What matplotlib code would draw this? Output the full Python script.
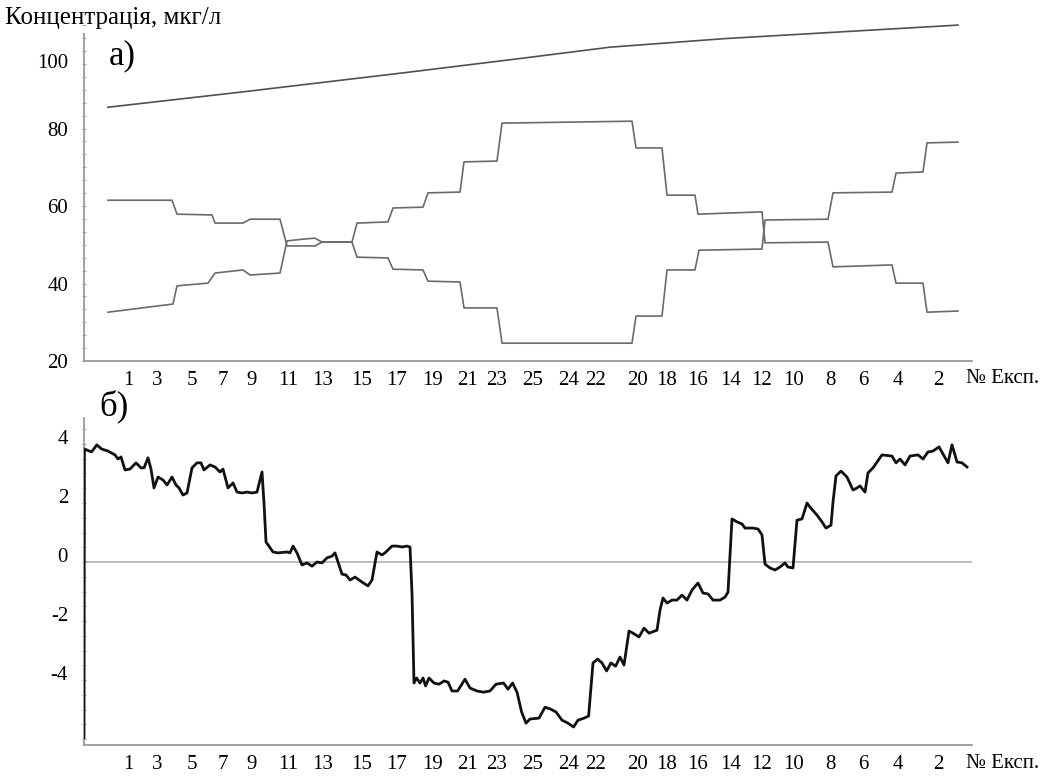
import matplotlib
matplotlib.use("Agg")
import matplotlib.pyplot as plt
import matplotlib.transforms as mtransforms
from matplotlib.ticker import MultipleLocator

plt.rcParams["font.family"] = ["Liberation Serif", "DejaVu Serif"]
plt.rcParams["axes.unicode_minus"] = False

# Experiment order along the run (odd numbers forward, even numbers back)
exp_labels = ["1", "3", "5", "7", "9", "11", "13", "15", "17", "19", "21", "23", "25",
              "24", "22", "20", "18", "16", "14", "12", "10", "8", "6", "4", "2"]
exp_pos = [11, 18.25, 27, 34.75, 42, 51, 59.75, 69.5, 78.25, 87.25, 95.75, 103.25, 112.25,
           121.25, 128, 138.25, 145.75, 153.5, 161.75, 169.5, 177.5, 186.5, 194.75, 203.5, 213.5]

# a) total concentration, mg/l
total_t = [6, 40, 80, 110, 131.5, 160, 190, 218.5]
total_c = [85.5, 89.5, 94.4, 98.2, 101.0, 103.2, 105.0, 106.7]

# a) component 1
comp1_t = [6, 22, 23.25, 32, 32.75, 39.75, 41.5, 49, 50.75, 57.75, 59.5, 67,
           68.25, 76, 77.25, 84.75, 86, 94, 95, 103.25, 104.5, 137, 138, 144.5,
           145.75, 152.75, 153.75, 169.5, 170.25, 186, 187.25, 202, 203, 209.75, 210.75, 218.5]
comp1_c = [61.5, 61.5, 57.9, 57.7, 55.6, 55.6, 56.6, 56.6, 49.7, 49.7, 50.7, 50.7,
           46.8, 46.6, 43.7, 43.5, 40.6, 40.4, 33.7, 33.7, 24.6, 24.6, 31.6, 31.6,
           43.5, 43.5, 48.6, 48.9, 56.4, 56.6, 63.4, 63.6, 68.5, 68.8, 76.3, 76.5]

# a) component 2
comp2_t = [6, 22.25, 23.25, 31, 32.75, 39.75, 41.5, 49, 50.75, 55.25, 57.75, 59.5, 67,
           68.25, 76, 77.25, 84.75, 86, 94, 95, 103.25, 104.5, 137, 138, 144.5,
           145.75, 152.75, 153.5, 169.5, 170.25, 186, 187.25, 202, 203, 209.75, 210.75, 218.5]
comp2_c = [32.6, 34.7, 39.4, 40.1, 42.7, 43.5, 42.2, 42.7, 51.0, 51.5, 51.7, 50.7, 50.7,
           55.6, 55.9, 59.5, 59.7, 63.4, 63.6, 71.4, 71.6, 81.4, 81.9, 75.0, 75.0,
           62.8, 62.8, 57.9, 58.5, 50.5, 50.7, 44.3, 44.8, 40.1, 40.1, 32.6, 32.9]

# b) response signal
sig_t = [0, 0.1, 0.25, 1.9, 3.2, 4.4, 6.0, 7.75, 8.5, 9.25, 10.25, 11.5, 13.0, 14.25, 15.0,
         16.0, 16.75, 17.5, 18.5, 19.75, 20.75, 22.0, 23.0, 23.75, 24.75, 25.75, 27.0, 28.25,
         29.25, 30.0, 31.5, 32.75, 34.0, 34.75, 36.0, 37.25, 38.25, 39.5, 40.75, 42.0, 43.25,
         44.5, 45.0, 45.5, 47.25, 48.5, 50.75, 51.5, 52.25, 53.25, 54.5, 55.75, 57.0, 58.25,
         59.5, 60.75, 62.0, 62.75, 64.5, 65.5, 66.5, 67.75, 69.5, 71.0, 72.0, 73.25, 74.5,
         75.25, 77.0, 78.25, 79.5, 80.75, 81.5, 82.0, 82.5, 83.15, 84.0, 84.75, 85.4, 86.25,
         87.5, 88.75, 90.0, 91.0, 92.0, 93.4, 95.25, 96.5, 98.25, 99.9, 101.5, 103.0, 104.9,
         106.0, 107.15, 108.25, 109.4, 110.5, 111.5, 113.75, 115.25, 116.6, 118.0, 119.5,
         121.0, 122.4, 123.5, 125.0, 126.15, 127.25, 128.4, 129.5, 130.65, 131.75, 132.9,
         134.0, 135.0, 136.25, 137.25, 138.75, 140.0, 141.25, 143.25, 144.0, 144.75, 145.75,
         147.0, 148.25, 149.5, 150.75, 152.0, 153.5, 154.75, 156.0, 157.25, 159.0, 160.25,
         161.0, 162.0, 163.25, 164.5, 165.25, 167.25, 168.5, 169.5, 170.25, 171.5, 172.75,
         174.0, 175.25, 176.0, 177.25, 178.25, 179.5, 180.75, 181.5, 183.25, 184.5, 185.5,
         186.75, 187.25, 188.0, 189.25, 190.75, 192.25, 193.25, 194.0, 195.25, 196.0, 197.25,
         199.5, 202.0, 203.0, 204.0, 205.25, 206.5, 208.5, 209.75, 211.0, 212.25, 213.75,
         216.0, 217.0, 218.25, 219.5, 220.75]
sig_v = [-5.95, 3.83, 3.82, 3.73, 3.97, 3.83, 3.76, 3.63, 3.49, 3.56, 3.12, 3.15, 3.36, 3.19,
         3.19, 3.53, 3.15, 2.51, 2.88, 2.78, 2.61, 2.88, 2.61, 2.51, 2.27, 2.34, 3.19, 3.36,
         3.36, 3.12, 3.29, 3.22, 3.05, 3.15, 2.51, 2.68, 2.37, 2.34, 2.37, 2.34, 2.37,
         3.05, 2.0, 0.68, 0.34, 0.31, 0.34, 0.31, 0.54, 0.31, -0.10, -0.03, -0.14, 0.0,
         -0.03, 0.14, 0.20, 0.31, -0.41, -0.44, -0.61, -0.51, -0.68, -0.81, -0.61, 0.34, 0.24,
         0.31, 0.54, 0.54, 0.51, 0.54, 0.51, -1.05, -4.10, -3.93, -4.10, -3.93, -4.20, -3.93,
         -4.10, -4.14, -4.03, -4.07, -4.37, -4.37, -3.97, -4.27, -4.37, -4.41, -4.37, -4.14, -4.10,
         -4.31, -4.10, -4.41, -5.08, -5.46, -5.32, -5.29, -4.92, -4.98, -5.08, -5.36,
         -5.46, -5.59, -5.36, -5.29, -5.22, -3.42, -3.29, -3.42, -3.69, -3.42, -3.53,
         -3.22, -3.49, -2.34, -2.41, -2.54, -2.24, -2.41, -2.31, -1.63, -1.22, -1.39,
         -1.29, -1.29, -1.12, -1.29, -0.95, -0.71, -1.05, -1.08, -1.29, -1.29, -1.19,
         -1.02, 1.46, 1.36, 1.29, 1.15, 1.15, 1.12, 0.92, -0.07, -0.20, -0.27,
         -0.17, -0.03, -0.17, -0.20, 1.42, 1.46, 2.0, 1.86, 1.59, 1.36, 1.15,
         1.25, 2.03, 2.92, 3.08, 2.88, 2.44, 2.51, 2.58, 2.37, 3.02, 3.19,
         3.63, 3.59, 3.36, 3.49, 3.29, 3.59, 3.63, 3.49, 3.73, 3.76, 3.90,
         3.36, 3.97, 3.39, 3.36, 3.22]

fig = plt.figure(figsize=(10.57, 7.76), dpi=100)
ax1 = fig.add_axes([84 / 1057, 1 - 361 / 776, 888 / 1057, 339 / 776])
ax2 = fig.add_axes([84 / 1057, 1 - 745 / 776, 888 / 1057, 327 / 776])

axis_grey = "#9a9a9a"
for ax in (ax1, ax2):
    for side in ("top", "right"):
        ax.spines[side].set_visible(False)
    ax.spines["left"].set_color(axis_grey)
    ax.spines["bottom"].set_color(axis_grey)
    ax.spines["left"].set_linewidth(1.3)
    ax.spines["bottom"].set_linewidth(1.3)
    ax.set_xlim(0, 222)
    ax.set_xticks(exp_pos)
    ax.set_xticklabels(exp_labels)
    ax.tick_params(axis="x", length=0, pad=7, labelsize=15)
    ax.tick_params(axis="y", which="both", direction="inout", length=3,
                   color=axis_grey, labelsize=15, pad=10)

# a) concentrations
ax1.plot(total_t, total_c, color="#505050", lw=1.2)
ax1.plot(comp1_t, comp1_c, color="#6a6a6a", lw=1.2)
ax1.plot(comp2_t, comp2_c, color="#6a6a6a", lw=1.2)
ax1.set_ylim(20, 107.5)
ax1.spines["left"].set_bounds(20, 104.4)
ax1.set_yticks([20, 40, 60, 80, 100])
ax1.yaxis.set_minor_locator(MultipleLocator(20 / 6))
# the top label sits a little below its tick
top_lab = ax1.get_yticklabels()[-1]
top_lab.set_transform(top_lab.get_transform()
                      + mtransforms.ScaledTranslation(0, -0.1, fig.dpi_scale_trans))
ax1.text(0.028, 0.9, "а)", transform=ax1.transAxes, fontsize=25, va="center")

# b) signal
ax2.axhline(0, color="#b8b8b8", lw=1.3, zorder=1)
ax2.plot(sig_t, sig_v, color="#111111", lw=2.0, zorder=3)
ax2.set_ylim(-6.2, 4.88)
ax2.set_yticks([-4, -2, 0, 2, 4])
ax2.yaxis.set_minor_locator(MultipleLocator(0.5))
shift = mtransforms.ScaledTranslation(0, 0.07, fig.dpi_scale_trans)
for lab in ax2.get_yticklabels():
    lab.set_transform(lab.get_transform() + shift)

fig.text(5 / 1057, 1 - 18 / 776, "Концентрація, мкг/л", fontsize=18, va="center", ha="left")
fig.text(99 / 1057, 1 - 406 / 776, "б)", fontsize=25, va="center", ha="left")
fig.text(966 / 1057, 1 - 378 / 776, "№ Експ.", fontsize=15, va="center", ha="left")
fig.text(966 / 1057, 1 - 763 / 776, "№ Експ.", fontsize=15, va="center", ha="left")

fig.savefig("out.png", dpi=100)
